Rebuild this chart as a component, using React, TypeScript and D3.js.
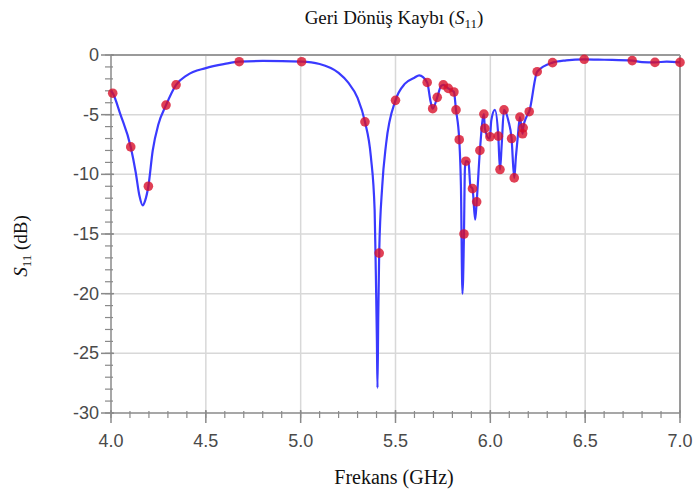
import React from "react";
import * as d3 from "d3";

const markerF = [4.009, 4.104, 4.197, 4.29, 4.343, 4.676, 5.005, 5.339, 5.414, 5.5, 5.667, 5.696, 5.72, 5.752, 5.778, 5.808, 5.819, 5.836, 5.861, 5.871, 5.906, 5.928, 5.945, 5.966, 5.971, 5.998, 6.042, 6.051, 6.072, 6.112, 6.126, 6.156, 6.17, 6.173, 6.205, 6.247, 6.328, 6.495, 6.748, 6.868, 7.0];
const markerV = [-3.2, -7.7, -11.0, -4.2, -2.5, -0.56, -0.56, -5.6, -16.6, -3.8, -2.3, -4.5, -3.55, -2.5, -2.8, -3.1, -4.6, -7.1, -15.0, -8.9, -11.2, -12.3, -8.0, -4.95, -6.15, -6.85, -6.8, -9.6, -4.6, -7.0, -10.3, -5.2, -6.6, -6.1, -4.75, -1.4, -0.64, -0.36, -0.47, -0.62, -0.62];

const curveF = [4.0, 4.05, 4.13, 4.15, 4.167, 4.18, 4.22, 4.25, 4.4, 4.5, 4.6, 4.8, 5.1, 5.2, 5.25, 5.3, 5.37, 5.39, 5.396, 5.402, 5.405, 5.409, 5.43, 5.45, 5.55, 5.6, 5.625, 5.685, 5.74, 5.845, 5.853, 5.866, 5.885, 5.895, 5.92, 5.994, 6.005, 6.024, 6.06, 6.095, 6.135, 6.145, 6.19, 6.4, 6.6, 6.8, 6.93];
const curveV = [-3.0, -5.0, -9.8, -11.8, -12.6, -12.2, -8.0, -5.8, -1.7, -1.1, -0.75, -0.5, -0.75, -1.5, -2.3, -3.6, -8.5, -13.0, -18.0, -24.0, -27.9, -22.0, -11.0, -7.5, -2.4, -1.9, -1.7, -3.9, -2.6, -11.0, -20.0, -9.5, -9.0, -11.0, -13.8, -7.0, -5.5, -4.6, -7.5, -5.5, -8.5, -6.8, -5.2, -0.45, -0.4, -0.6, -0.55];

const xTicks = [4.0, 4.5, 5.0, 5.5, 6.0, 6.5, 7.0];
const yTicks = [0, -5, -10, -15, -20, -25, -30];

const W = 699;
const H = 498;
const left = 111;
const right = 680;
const top = 55;
const bottom = 413;

export default function App() {
  const x = d3.scaleLinear().domain([4, 7]).range([left, right]);
  const y = d3.scaleLinear().domain([0, -30]).range([top, bottom]);

  const markers = markerF.map((f, i) => [f, markerV[i]] as [number, number]);
  const curve = curveF.map((f, i) => [f, curveV[i]] as [number, number]);
  const all = [...markers, ...curve].sort((a, b) => a[0] - b[0]);

  const line = d3
    .line<[number, number]>()
    .x((d) => x(d[0]))
    .y((d) => y(d[1]))
    .curve(d3.curveMonotoneX);

  const xMinor = d3.range(40, 71).map((v) => v / 10);
  const yMinor = d3.range(0, -31, -1);

  const tickFont = "'Liberation Sans', Arial, sans-serif";
  const serif = "'Liberation Serif', 'Times New Roman', serif";

  return (
    <svg width={W} height={H} style={{ position: "absolute", left: 0, top: 0, background: "#fff" }}>
      {xTicks.slice(1, -1).map((t) => (
        <line key={"gx" + t} x1={x(t)} x2={x(t)} y1={top} y2={bottom} stroke="#d8d8d8" strokeWidth={1.5} />
      ))}
      {yTicks.slice(1, -1).map((t) => (
        <line key={"gy" + t} x1={left} x2={right} y1={y(t)} y2={y(t)} stroke="#d8d8d8" strokeWidth={1.5} />
      ))}
      <line x1={left} x2={right} y1={top} y2={top} stroke="#9a9a9a" strokeWidth={2} />
      <line x1={right} x2={right} y1={top} y2={bottom} stroke="#9a9a9a" strokeWidth={2} />
      <line x1={left} x2={left} y1={top} y2={bottom} stroke="#8a8a8a" strokeWidth={1.5} />
      <line x1={left} x2={right} y1={bottom} y2={bottom} stroke="#8a8a8a" strokeWidth={1.5} />
      {xMinor.map((t) => (
        <line key={"xm" + t} x1={x(t)} x2={x(t)} y1={bottom - 2} y2={bottom + 5} stroke="#8a8a8a" strokeWidth={1.2} />
      ))}
      {xTicks.map((t) => (
        <line key={"xM" + t} x1={x(t)} x2={x(t)} y1={bottom - 3} y2={bottom + 10} stroke="#8a8a8a" strokeWidth={1.5} />
      ))}
      {yMinor.map((t) => (
        <line key={"ym" + t} x1={left - 6} x2={left + 2} y1={y(t)} y2={y(t)} stroke="#8a8a8a" strokeWidth={1.2} />
      ))}
      {yTicks.map((t) => (
        <line key={"yM" + t} x1={left - 10} x2={left + 3} y1={y(t)} y2={y(t)} stroke="#8a8a8a" strokeWidth={1.5} />
      ))}
      {xTicks.map((t) => (
        <text key={"xl" + t} x={x(t)} y={bottom + 34} textAnchor="middle" fontFamily={tickFont} fontSize={18} fill="#4a4a4a">
          {t.toFixed(1)}
        </text>
      ))}
      {yTicks.map((t) => (
        <text key={"yl" + t} x={left - 12} y={y(t) + 6} textAnchor="end" fontFamily={tickFont} fontSize={18} fill="#4a4a4a">
          {t}
        </text>
      ))}
      <path d={line(all) || ""} fill="none" stroke="#3a3aff" strokeWidth={2.2} />
      {markers.map((d, i) => (
        <circle key={"m" + i} cx={x(d[0])} cy={y(d[1])} r={4.8} fill="#d8102a" fillOpacity={0.8} />
      ))}
      <text x={394} y={24} textAnchor="middle" fontFamily={serif} fontSize={19} fill="#111">
        Geri Dönüş Kaybı (<tspan fontStyle="italic">S</tspan>
        <tspan fontSize={13} dy={4}>11</tspan>
        <tspan dy={-4}>)</tspan>
      </text>
      <text x={394} y={484} textAnchor="middle" fontFamily={serif} fontSize={20} fill="#111">
        Frekans (GHz)
      </text>
      <text transform={`translate(27,${246}) rotate(-90)`} textAnchor="middle" fontFamily={serif} fontSize={19} fill="#111">
        <tspan fontStyle="italic">S</tspan>
        <tspan fontSize={13} dy={4}>11</tspan>
        <tspan dy={-4}> (dB)</tspan>
      </text>
    </svg>
  );
}
